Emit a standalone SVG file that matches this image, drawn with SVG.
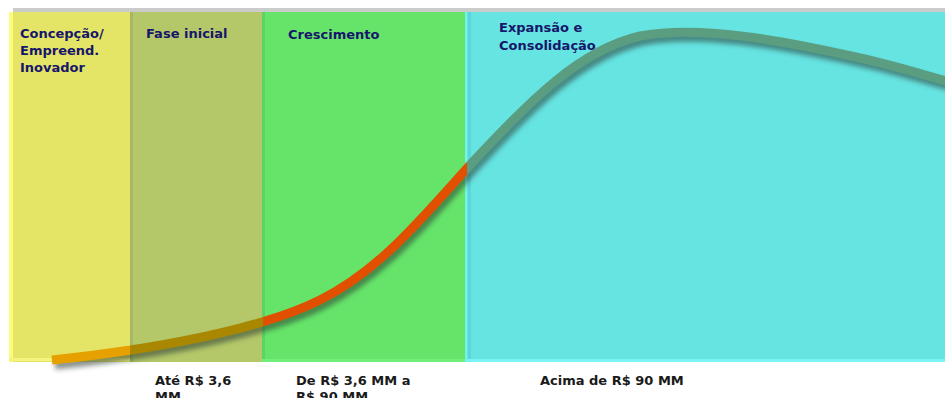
<svg xmlns="http://www.w3.org/2000/svg" width="945" height="398" viewBox="0 0 945 398">
<style>
.lbl{font-family:"DejaVu Sans",Verdana,sans-serif;font-weight:bold;font-size:13px;fill:#16166a}
.val{font-family:"DejaVu Sans",Verdana,sans-serif;font-weight:bold;font-size:13px;fill:#1a1a1a}
</style>
<defs>
<path id="curve" d="M52 360 C150 350,260 330,320 300 C380 270,420 220,470 165 C530 100,580 50,640 36 C700 25,780 40,860 58 C900 67,930 77,950 82" fill="none" stroke-width="9"/>
<clipPath id="cY"><rect x="0" y="0" width="130" height="398"/></clipPath>
<clipPath id="cO"><rect x="130" y="0" width="133" height="398"/></clipPath>
<clipPath id="cG"><rect x="263" y="0" width="204" height="398"/></clipPath>
<clipPath id="cC"><rect x="467" y="0" width="478" height="398"/></clipPath>
<filter id="blur" x="-10%" y="-10%" width="120%" height="130%"><feGaussianBlur stdDeviation="2.5"/></filter>
</defs>
<rect x="0" y="0" width="945" height="398" fill="#ffffff"/>
<rect x="13" y="8" width="932" height="5" fill="#cbcbcb"/>
<g id="panel-concepcao">
<rect x="9" y="12" width="121" height="350" fill="#e4e466"/>
<rect x="9" y="12" width="4" height="350" fill="#fcfc7c"/>
<rect x="9" y="358" width="121" height="3" fill="#f4f47e"/>
<text class="lbl" x="20" y="38">Concepção/</text>
<text class="lbl" x="20" y="55">Empreend.</text>
<text class="lbl" x="20" y="72">Inovador</text>
</g>
<g id="panel-fase-inicial">
<rect x="130" y="12" width="133" height="350" fill="#b4c86a"/>
<rect x="130" y="12" width="3" height="350" fill="#a6b866"/>
<text class="lbl" x="146" y="38">Fase inicial</text>
<text class="val" x="155" y="385">Até R$ 3,6</text>
<text class="val" x="155" y="401">MM</text>
</g>
<g id="panel-crescimento">
<rect x="262" y="12" width="205" height="350" fill="#66e46a"/>
<rect x="262" y="12" width="3" height="350" fill="#5cd362"/>
<rect x="262" y="359" width="205" height="3" fill="#70f07a"/>
<text class="lbl" x="288" y="39">Crescimento</text>
<text class="val" x="296" y="385">De R$ 3,6 MM a</text>
<text class="val" x="296" y="401">R$ 90 MM</text>
</g>
<g id="panel-expansao">
<rect x="465" y="12" width="480" height="350" fill="#66e4e2"/>
<rect x="465" y="12" width="2" height="350" fill="#72f4e8"/>
<rect x="468" y="12" width="3" height="350" fill="#5cd6da"/>
<rect x="467" y="359" width="478" height="3" fill="#7af4f4"/>
<text class="lbl" x="499" y="32">Expansão e</text>
<text class="lbl" x="499" y="50">Consolidação</text>
<text class="val" x="540" y="385">Acima de R$ 90 MM</text>
</g>
<g id="connectors">
<use href="#curve" stroke="#2a3a30" opacity="0.55" transform="translate(3,5)" filter="url(#blur)"/>
<use href="#curve" stroke="#e6a100" clip-path="url(#cY)"/>
<use href="#curve" stroke="#a98700" clip-path="url(#cO)"/>
<use href="#curve" stroke="#e05000" clip-path="url(#cG)"/>
<use href="#curve" stroke="#5b9d80" clip-path="url(#cC)"/>
</g>
</svg>
